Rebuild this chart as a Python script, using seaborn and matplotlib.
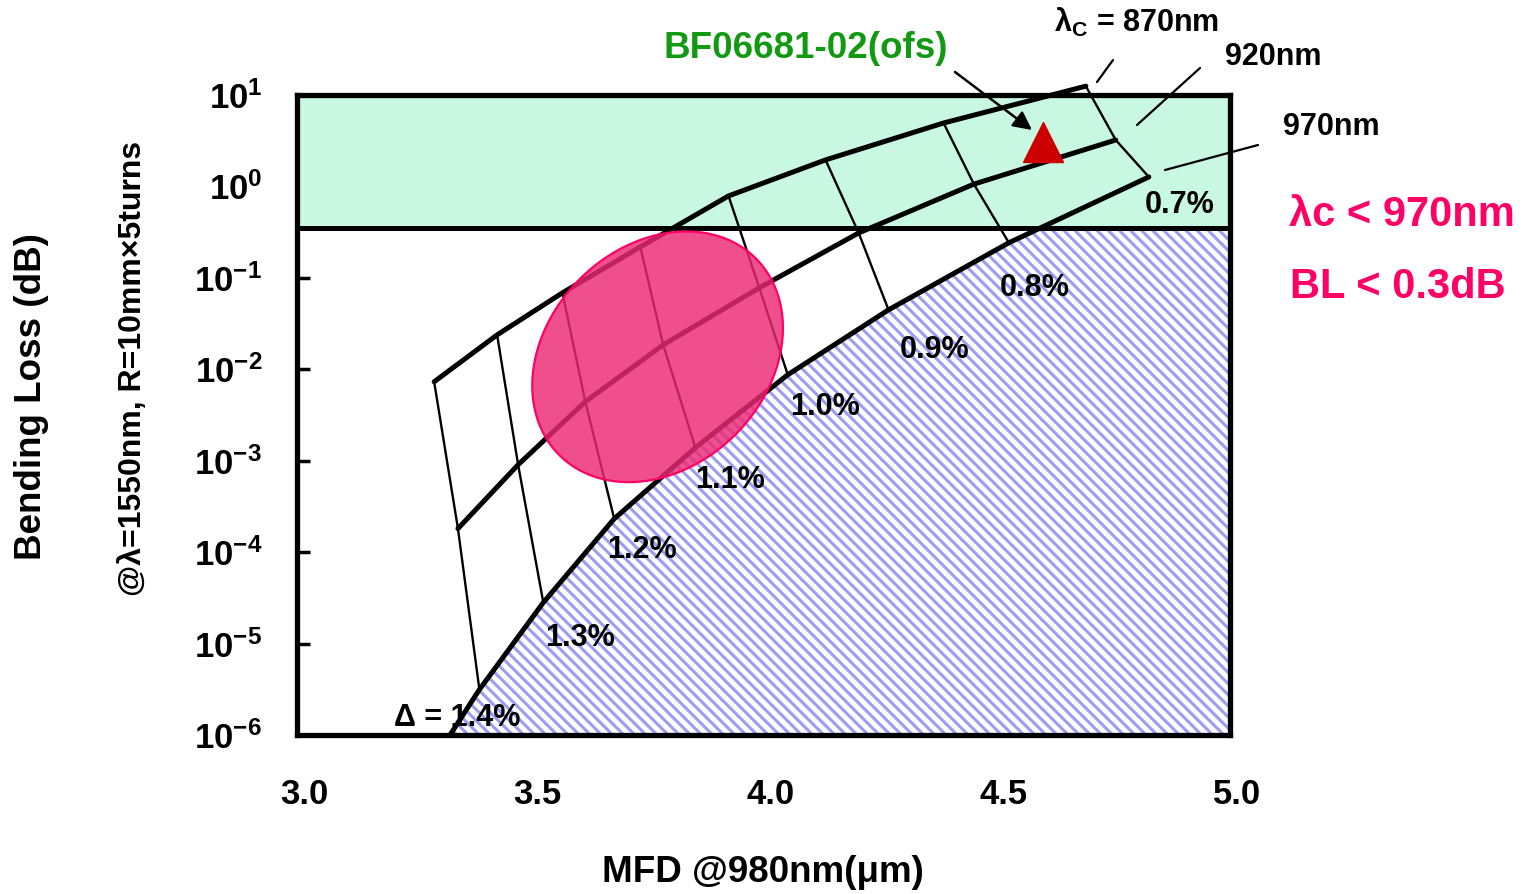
import numpy as np
import pandas as pd
import matplotlib
matplotlib.use("Agg")
import matplotlib.pyplot as plt
import matplotlib.transforms as mtransforms
import seaborn as sns
from matplotlib.ticker import FixedLocator, NullLocator

# ---------------- data ----------------
delta_labels = ["0.7%", "0.8%", "0.9%", "1.0%", "1.1%", "1.2%", "1.3%", "\u0394 = 1.4%"]

# lambda_c = 870 nm curve (top)
mfd_870 = [4.691, 4.386, 4.133, 3.925, 3.736, 3.569, 3.429, 3.294]
bl_870 = [12.5, 4.94, 1.95, 0.787, 0.218, 0.0686, 0.0238, 0.0073]
# lambda_c = 920 nm curve (middle)
mfd_920 = [4.755, 4.451, 4.204, 3.991, 3.785, 3.618, 3.474, 3.345]
bl_920 = [3.22, 1.06, 0.310, 0.0778, 0.0185, 0.00442, 0.000904, 0.000181]
# lambda_c = 970 nm curve (bottom)
mfd_970 = [4.826, 4.526, 4.268, 4.052, 3.854, 3.680, 3.528, 3.391]
bl_970 = [1.27, 0.242, 0.0447, 0.00871, 0.00139, 0.000232, 2.81e-5, 3.14e-6]
# continuation of the 970 nm boundary down to the axis
mfd_970_tail = [3.391, 3.328]
bl_970_tail = [3.14e-6, 1.0e-6]

bl_limit = 0.35                 # BL limit line
fiber_mfd = [4.60]              # BF06681-02(ofs)
fiber_bl = [3.1]

x_ticks = [3.0, 3.5, 4.0, 4.5, 5.0]
x_ticklabels = ["3.0", "3.5", "4.0", "4.5", "5.0"]
y_ticks = [1e-6, 1e-5, 1e-4, 1e-3, 1e-2, 1e-1, 1e0, 1e1]
y_ticklabels = ["$10^{-6}$", "$10^{-5}$", "$10^{-4}$", "$10^{-3}$",
                "$10^{-2}$", "$10^{-1}$", "$10^{0}$", "$10^{1}$"]

# target ellipse (center in data, semi-axes in pixels, tilt)
ell_center_mfd = 3.773
ell_center_bl = 0.0137
ell_a_px, ell_b_px, ell_angle = 139, 110, 45

# ---------------- style ----------------
sns.set_theme(style="white")
plt.rcParams["font.family"] = ["Liberation Sans", "DejaVu Sans"]
plt.rcParams["font.weight"] = "bold"
plt.rcParams["text.color"] = "black"
plt.rcParams["axes.labelcolor"] = "black"
plt.rcParams["xtick.color"] = "black"
plt.rcParams["ytick.color"] = "black"
plt.rcParams["mathtext.fontset"] = "custom"
plt.rcParams["mathtext.rm"] = "Liberation Sans:bold"
plt.rcParams["mathtext.bf"] = "Liberation Sans:bold"
plt.rcParams["mathtext.it"] = "Liberation Sans:bold"

W, H = 1532, 894
fig = plt.figure(figsize=(W / 100, H / 100), dpi=100)
L, R, T, B = 297, 1230, 95, 735
ax = fig.add_axes([L / W, 1 - B / H, (R - L) / W, (B - T) / H])
ax.set_yscale("log")
ax.set_xlim(3.0, 5.0)
ax.set_ylim(1e-6, 10)

px_per_x = (R - L) / 2.0
px_per_dec = (B - T) / 7.0

def fpos(x, y):
    return x / W, 1 - y / H

# hatched (forbidden) region below the 970 nm boundary
hx = mfd_970_tail[::-1] + mfd_970[::-1] + [5.0]
hy = bl_970_tail[::-1] + bl_970[::-1] + [10.0]
with plt.rc_context({"hatch.linewidth": 2.2}):
    ax.fill_between(hx, 1e-6, hy, facecolor="white", edgecolor="#9c9cf2",
                    hatch="\\\\\\", linewidth=0, zorder=1)
# green region above BL limit
ax.axhspan(bl_limit, 10, facecolor="#c8f8e2", edgecolor="none",
           linewidth=0, zorder=2)
ax.axhline(bl_limit, color="black", lw=3.6, zorder=3)

# thin Delta lines
for i in range(len(delta_labels)):
    dfl = pd.DataFrame({"x": [mfd_870[i], mfd_920[i], mfd_970[i]],
                        "y": [bl_870[i], bl_920[i], bl_970[i]]})
    sns.lineplot(data=dfl, x="x", y="y", sort=False, estimator=None,
                 color="black", lw=1.7, ax=ax, zorder=4, legend=False)

# thick lambda_c curves
for xs, ys in [(mfd_870, bl_870), (mfd_920, bl_920),
               (mfd_970 + mfd_970_tail[1:], bl_970 + bl_970_tail[1:])]:
    dfc = pd.DataFrame({"x": xs, "y": ys})
    sns.lineplot(data=dfc, x="x", y="y", sort=False, estimator=None,
                 color="black", lw=3.6, ax=ax, zorder=5, legend=False)
for ln in ax.lines:
    ln.set_clip_on(False)
    ln.set_solid_capstyle("round")
    ln.set_solid_joinstyle("round")

# target ellipse
t = np.linspace(0, 2 * np.pi, 300)
th = np.deg2rad(ell_angle)
ex = ell_a_px * np.cos(t) * np.cos(th) - ell_b_px * np.sin(t) * np.sin(th)
ey = ell_a_px * np.cos(t) * np.sin(th) + ell_b_px * np.sin(t) * np.cos(th)
ell_x = ell_center_mfd + ex / px_per_x
ell_y = 10 ** (np.log10(ell_center_bl) + ey / px_per_dec)
ax.fill(ell_x, ell_y, facecolor="#ec2a74", alpha=0.82, edgecolor="none", zorder=6)
ax.plot(ell_x, ell_y, color="#ff0066", lw=1.6, zorder=6)

# fiber marker
ax.plot(fiber_mfd, fiber_bl, marker="^", ms=29, color="#cc0000", ls="none",
        zorder=7, clip_on=False)

# ticks
ax.xaxis.set_major_locator(FixedLocator(x_ticks))
ax.set_xticklabels(x_ticklabels)
ax.yaxis.set_major_locator(FixedLocator(y_ticks))
ax.yaxis.set_minor_locator(NullLocator())
ax.set_yticklabels(y_ticklabels)
ax.tick_params(axis="x", direction="in", length=9, width=2.5, bottom=True,
               top=False, labelsize=25, pad=31, color="black", labelcolor="black")
ax.tick_params(axis="y", direction="in", length=9, width=2.5, left=True,
               right=True, labelsize=25, pad=25, color="black", labelcolor="black")
shift = mtransforms.ScaledTranslation(7 / 100, 0, fig.dpi_scale_trans)
for lab in ax.get_xticklabels():
    lab.set_fontweight("bold")
    lab.set_transform(lab.get_transform() + shift)
for lab in ax.get_yticklabels():
    lab.set_fontweight("bold")
for sp in ax.spines.values():
    sp.set_visible(True)
    sp.set_linewidth(3.8)
    sp.set_color("black")
    sp.set_zorder(8)
ax.set_xlabel("")
ax.set_ylabel("")
ax.grid(False)

# axis labels
fig.text(*fpos(32, 397), "Bending Loss (dB)", rotation=90, ha="center",
         va="center", fontsize=26.5, fontweight="bold")
fig.text(*fpos(133, 368), "@\u03bb=1550nm, R=10mm\u00d75turns", rotation=90,
         ha="center", va="center", fontsize=23, fontweight="bold")
fig.text(*fpos(763, 873), "MFD @980nm(\u03bcm)", ha="center", va="center",
         fontsize=26.5, fontweight="bold")

# Delta labels
pct_pos = [(1180, 205), (1035, 288), (935, 350), (825, 407), (730, 480),
           (642, 550), (580, 638), (457, 718)]
for lab, (px, py) in zip(delta_labels, pct_pos):
    fig.text(*fpos(px, py), lab, ha="center", va="center", fontsize=22,
             fontweight="bold", zorder=10)

# lambda_c labels and leaders
fig.text(*fpos(1137, 22), "\u03bb$_{\\mathregular{C}}$ = 870nm", ha="center",
         va="center", fontsize=22, fontweight="bold")
fig.text(*fpos(1273, 57), "920nm", ha="center", va="center", fontsize=22,
         fontweight="bold")
fig.text(*fpos(1331, 127), "970nm", ha="center", va="center", fontsize=22,
         fontweight="bold")

def p2d(px, py):
    return 3.0 + (px - L) / px_per_x, 10 ** (1 - (py - T) / px_per_dec)

for (x0, y0), (x1, y1) in [((1113, 60), (1097, 82)),
                           ((1200, 68), (1137, 125)),
                           ((1258, 145), (1165, 170))]:
    a0, b0 = p2d(x0, y0)
    a1, b1 = p2d(x1, y1)
    ax.plot([a0, a1], [b0, b1], color="black", lw=1.6, clip_on=False, zorder=9)

# fiber label + arrow
fig.text(*fpos(806, 49), "BF06681-02(ofs)", ha="center", va="center",
         fontsize=26.5, fontweight="bold", color="#119911")
ax.annotate("", xy=p2d(1032, 130), xytext=p2d(955, 72),
            arrowprops=dict(arrowstyle="-|>", color="black", lw=1.8,
                            mutation_scale=28, shrinkA=0, shrinkB=0),
            annotation_clip=False, zorder=9)

# spec text
fig.text(*fpos(1402, 215), "\u03bbc < 970nm", ha="center", va="center",
         fontsize=30, fontweight="bold", color="#ff0066")
fig.text(*fpos(1398, 287), "BL < 0.3dB", ha="center", va="center",
         fontsize=30, fontweight="bold", color="#ff0066")

fig.savefig("out.png", dpi=100)
